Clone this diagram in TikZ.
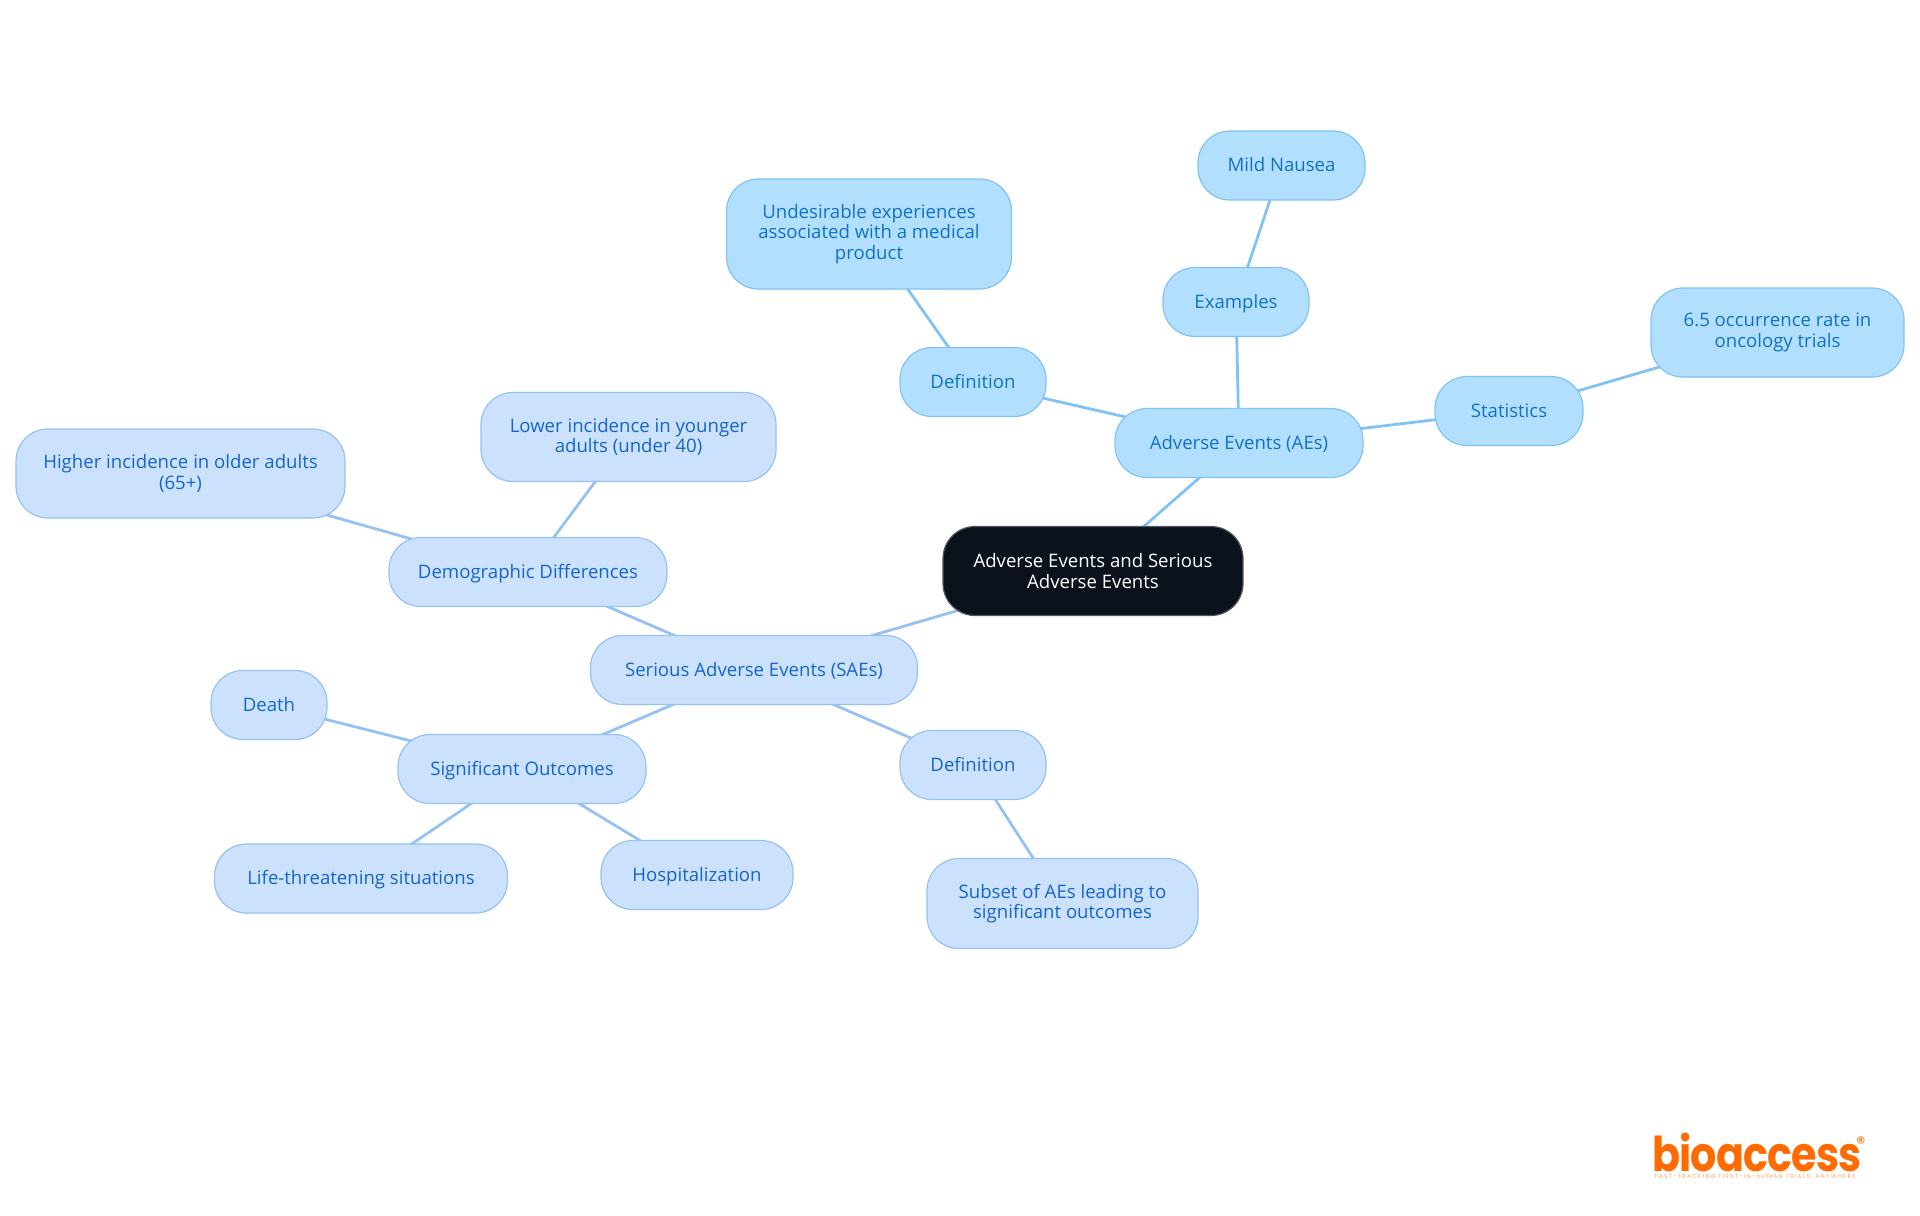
\documentclass[tikz,border=0pt]{standalone}
\usepackage{fontspec}
\setmainfont{Open Sans}
\newfontfamily\logofont[LetterSpace=-2]{Poppins}
\newfontfamily\tagfont[LetterSpace=20]{Poppins}
\usetikzlibrary{backgrounds}
\definecolor{rootfill}{HTML}{0B121B}
\definecolor{aefill}{HTML}{B3DFFF}
\definecolor{aeline}{HTML}{80C3F3}
\definecolor{aetext}{HTML}{0F72C4}
\definecolor{saefill}{HTML}{CCE2FC}
\definecolor{saeline}{HTML}{95C2F2}
\definecolor{saetext}{HTML}{1565CC}
\definecolor{logoorange}{HTML}{FF6B00}
\tikzset{
    mapnode/.style={rounded corners=16pt, line width=0.6pt, align=center, inner sep=0pt,
        minimum height=34.5pt, font=\fontsize{9.3}{10.3}\selectfont},
    oneline/.style={text height=8pt, text depth=2pt},
    rootnode/.style={mapnode, fill=rootfill, draw=rootfill!70!white, text=white},
    aenode/.style={mapnode, fill=aefill, draw=aeline, text=aetext},
    saenode/.style={mapnode, fill=saefill, draw=saeline, text=saetext},
}
\begin{document}
\begin{tikzpicture}[x=0.5pt, y=-0.5pt]
    \useasboundingbox (0,0) rectangle (1920,1215);
    % root
    \node[rootnode, minimum width=150pt, minimum height=44.5pt] (root) at (1093,571) {Adverse Events and Serious\\Adverse Events};
    % adverse events
    \node[aenode, oneline, minimum width=124pt] (aes) at (1239,443) {Adverse Events (AEs)};
    \node[aenode, oneline, minimum width=73pt] (aedef) at (973,382) {Definition};
    \node[aenode, minimum width=142.5pt, minimum height=55pt] (aedeftext) at (869,234) {Undesirable experiences\\associated with a medical\\product};
    \node[aenode, oneline, minimum width=73pt] (examples) at (1236,302) {Examples};
    \node[aenode, oneline, minimum width=83.5pt] (nausea) at (1281.5,165.5) {Mild Nausea};
    \node[aenode, oneline, minimum width=74pt] (stats) at (1509,411) {Statistics};
    \node[aenode, minimum width=126.5pt, minimum height=44.5pt] (statstext) at (1777.5,332.5) {6.5 occurrence rate in\\oncology trials};
    % serious adverse events
    \node[saenode, oneline, minimum width=163.5pt] (saes) at (754,670) {Serious Adverse Events (SAEs)};
    \node[saenode, oneline, minimum width=139pt] (demo) at (528,572) {Demographic Differences};
    \node[saenode, minimum width=147.5pt, minimum height=44.5pt] (younger) at (628.5,437) {Lower incidence in younger\\adults (under 40)};
    \node[saenode, minimum width=164.5pt, minimum height=44.5pt] (older) at (180.5,473.5) {Higher incidence in older adults\\(65+)};
    \node[saenode, oneline, minimum width=124pt] (outcomes) at (522,769) {Significant Outcomes};
    \node[saenode, oneline, minimum width=58pt] (death) at (269,705) {Death};
    \node[saenode, oneline, minimum width=146.5pt] (life) at (361,878.5) {Life-threatening situations};
    \node[saenode, oneline, minimum width=96pt] (hosp) at (697,875) {Hospitalization};
    \node[saenode, oneline, minimum width=73pt] (saedef) at (973,765) {Definition};
    \node[saenode, minimum width=135.5pt, minimum height=45pt] (saedeftext) at (1062.5,903.5) {Subset of AEs leading to\\significant outcomes};
    % connectors
    \begin{scope}[on background layer]
        \foreach \a/\b in {root/aes, aes/aedef, aedef/aedeftext, aes/examples, examples/nausea, aes/stats, stats/statstext} {
            \draw[aeline, line width=1.4pt] (\a.center) -- (\b.center);
        }
        \foreach \a/\b in {root/saes, saes/demo, demo/younger, demo/older, saes/outcomes, outcomes/death, outcomes/life, outcomes/hosp, saes/saedef, saedef/saedeftext} {
            \draw[saeline, line width=1.4pt] (\a.center) -- (\b.center);
        }
    \end{scope}
    % logo
    \node[text=logoorange, inner sep=0pt, font=\logofont\bfseries\fontsize{24}{24}\selectfont] (logo) at (1757,1152) {\scalebox{0.86}[1]{bioaccess}};
    \node[text=logoorange, inner sep=0pt, font=\logofont\fontsize{9}{9}\selectfont] (logomark) at (1861,1143) {®};
    \node[text=logoorange!60!white, inner sep=0pt, font=\tagfont\fontsize{3}{3}\selectfont] (logotag) at (1755,1177) {FAST-TRACKING FIRST-IN-HUMAN TRIALS, ANYWHERE};
\end{tikzpicture}
\end{document}
